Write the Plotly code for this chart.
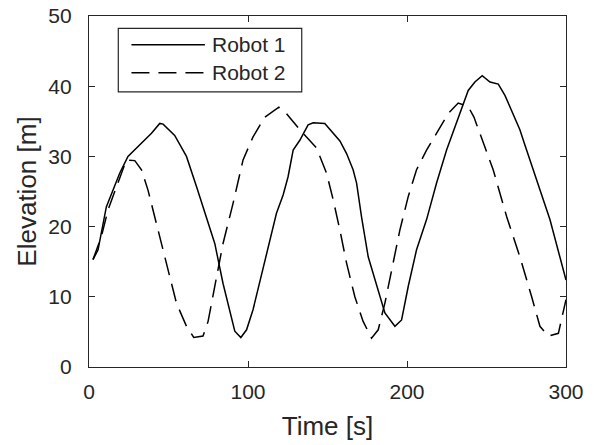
import plotly.graph_objects as go

# Elevation traces of the two robots
robot1_t = [2.5, 5.7, 10.9, 15.1, 19.3, 24.5, 30.8, 39.3, 44.5, 46.6, 53.9, 61.3, 67.6,
            73.9, 79.1, 84.3, 91.7, 95.5, 99.1, 103.2, 111.6, 117.9, 122.1, 125.2, 128.4,
            132.6, 137.8, 141.0, 148.3, 153.6, 157.8, 162.0, 166.1, 168.3, 171.4, 175.6,
            180.9, 186.1, 192.4, 196.6, 200.8, 206.0, 212.3, 218.6, 224.9, 231.2, 238.5,
            242.7, 247.3, 252.2, 257.4, 261.6, 265.8, 271.0, 274.2, 281.6, 289.9, 300.0]
robot1_z = [15.3, 16.7, 22.8, 25.2, 27.6, 30.0, 31.4, 33.3, 34.7, 34.6, 33.0, 30.0, 25.7,
            21.4, 17.6, 11.9, 5.1, 4.2, 5.3, 8.2, 16.2, 21.9, 24.5, 27.1, 30.9,
            32.3, 34.5, 34.8, 34.7, 33.3, 32.2, 30.4, 28.1, 26.2, 21.4, 15.7,
            11.5, 7.7, 5.8, 6.7, 11.5, 16.7, 21.0, 26.2, 30.9, 34.7, 39.4,
            40.6, 41.5, 40.6, 40.3, 38.7, 36.6, 33.8, 31.6, 26.6, 21.0, 12.4]

robot2_t = [2.5, 7.8, 12.0, 17.2, 23.5, 28.8, 33.0, 37.1, 42.4, 48.7, 55.0, 61.3, 65.9,
            71.7, 74.9, 79.1, 84.3, 90.6, 96.9, 103.2, 110.6, 119.4, 124.2, 132.6, 143.1,
            149.4, 153.6, 157.8, 162.0, 167.2, 172.4, 177.7, 181.9, 186.1, 191.3, 195.5,
            200.8, 206.0, 212.3, 219.6, 225.9, 232.2, 238.5, 242.1, 248.0, 254.2, 262.7,
            271.0, 278.4, 283.6, 288.9, 295.2, 300.0]
robot2_z = [15.3, 18.6, 22.4, 25.7, 29.5, 29.4, 28.1, 25.2, 20.5, 14.8, 9.1, 5.8, 4.2,
            4.4, 6.5, 11.5, 17.6, 23.3, 29.5, 32.8, 35.6, 37.0, 36.1, 33.8, 31.2,
            27.6, 23.8, 19.5, 14.8, 10.0, 6.5, 4.1, 5.3, 9.1, 14.8, 19.5,
            24.3, 28.1, 30.9, 33.8, 36.1, 37.6, 37.1, 35.6, 31.9, 28.1, 21.4,
            15.7, 10.0, 5.8, 4.4, 4.8, 9.6]

series_names = ["Robot 1", "Robot 2"]
x_ticks = [0, 100, 200, 300]
y_ticks = [0, 10, 20, 30, 40, 50]

FONT = "Arial, Liberation Sans, sans-serif"
INK = "#262626"
DASH = "18px,9px"
TICK_SIZE = 21
TITLE_SIZE = 26

fig = go.Figure()
fig.add_trace(go.Scatter(x=robot1_t, y=robot1_z, mode="lines", name=series_names[0],
                         line=dict(color="black", width=1.5), showlegend=False))
fig.add_trace(go.Scatter(x=robot2_t, y=robot2_z, mode="lines", name=series_names[1],
                         line=dict(color="black", width=1.5, dash=DASH), showlegend=False))

axis_common = dict(showline=True, linecolor=INK, linewidth=1.2, mirror="ticks",
                   ticks="inside", ticklen=6, tickcolor=INK, tickwidth=1,
                   showgrid=False, zeroline=False, automargin=False,
                   tickfont=dict(family=FONT, size=TICK_SIZE, color=INK))

fig.update_xaxes(range=[0, 300], tickvals=x_ticks, ticklabelstandoff=6,
                 title=dict(text="Time [s]", font=dict(family=FONT, size=TITLE_SIZE, color=INK),
                            standoff=14), **axis_common)
fig.update_yaxes(range=[0, 50], tickvals=y_ticks, ticklabelstandoff=12,
                 title=dict(text="Elevation [m]", font=dict(family=FONT, size=TITLE_SIZE, color=INK),
                            standoff=4), **axis_common)

# Boxed legend in the upper-left corner of the axes
box = dict(x0=0.0614, x1=0.4460, y0=0.784, y1=0.965)
rows = [0.918, 0.838]
shapes = [dict(type="rect", xref="paper", yref="paper", **box,
               line=dict(color=INK, width=1.2), fillcolor="white", layer="above")]
dashes = ["solid", DASH]
for y, d in zip(rows, dashes):
    shapes.append(dict(type="line", xref="paper", yref="paper", x0=0.089, x1=0.243,
                       y0=y, y1=y, line=dict(color="black", width=1.5, dash=d),
                       layer="above"))
annotations = [dict(xref="paper", yref="paper", x=0.254, y=y, text=name,
                    showarrow=False, xanchor="left", yanchor="middle",
                    font=dict(family=FONT, size=TICK_SIZE, color=INK))
               for y, name in zip(rows, series_names)]

fig.update_layout(width=594, height=445, paper_bgcolor="white", plot_bgcolor="white",
                  margin=dict(l=89, r=28, t=16, b=78, autoexpand=False), shapes=shapes,
                  annotations=annotations, showlegend=False)

fig.write_html("out.html")
